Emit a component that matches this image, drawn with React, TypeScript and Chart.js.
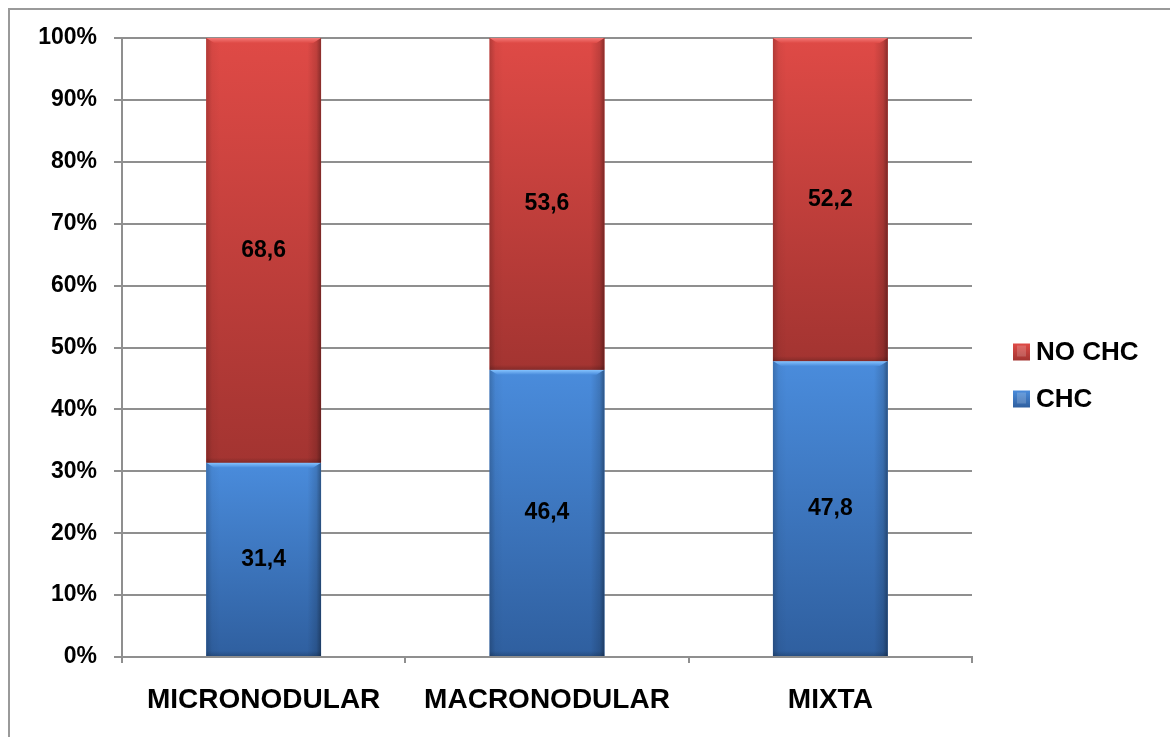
import React, { useEffect, useRef } from "react";
import { Chart, registerables } from "chart.js";

Chart.register(...registerables);

// Cirrhosis type categories and share (%) of patients with / without CHC
const categories = ["MICRONODULAR", "MACRONODULAR", "MIXTA"];
const seriesNames = ["CHC", "NO CHC"];
const chcValues = [31.4, 46.4, 47.8];
const noChcValues = [68.6, 53.6, 52.2];
const yTickStep = 10;
const yMax = 100;

const FONT = '"Liberation Sans", Arial, Helvetica, sans-serif';
const AXIS_GRAY = "#8f8f8f";

type Palette = { top: string; bottom: string; mid: string; light: string };
const palettes: Palette[] = [
  { top: "#4a8cdc", bottom: "#2f5f9f", mid: "#3f78c2", light: "#86c4ff" },
  { top: "#df4a46", bottom: "#a33431", mid: "#c43f3b", light: "#f47876" },
];

const fmt = (v: number) => v.toFixed(1).replace(".", ",");

// Glossy bar bodies, bevel highlights and value labels
const bevelBars = {
  id: "bevelBars",
  afterDatasetsDraw(chart: any) {
    const ctx: CanvasRenderingContext2D = chart.ctx;
    chart.data.datasets.forEach((ds: any, di: number) => {
      const meta = chart.getDatasetMeta(di);
      const pal = palettes[di];
      meta.data.forEach((el: any, i: number) => {
        const { x, y, base, width } = el.getProps(["x", "y", "base", "width"], true);
        const left = x - width / 2;
        const right = x + width / 2;
        const top = Math.min(y, base);
        const bottom = Math.max(y, base);
        const h = bottom - top;
        ctx.save();
        const g = ctx.createLinearGradient(0, top, 0, bottom);
        g.addColorStop(0, pal.top);
        g.addColorStop(1, pal.bottom);
        ctx.fillStyle = g;
        ctx.fillRect(left, top, width, h);

        const sg = ctx.createLinearGradient(left, 0, right, 0);
        sg.addColorStop(0, "rgba(0,0,0,0.2)");
        sg.addColorStop(0.05, "rgba(0,0,0,0.04)");
        sg.addColorStop(0.12, "rgba(0,0,0,0)");
        sg.addColorStop(0.88, "rgba(0,0,0,0)");
        sg.addColorStop(0.96, "rgba(0,0,0,0.14)");
        sg.addColorStop(1, "rgba(0,0,0,0.38)");
        ctx.fillStyle = sg;
        ctx.fillRect(left, top, width, h);

        // top bevel
        const bh = 5;
        ctx.beginPath();
        ctx.moveTo(left, top);
        ctx.lineTo(right, top);
        ctx.lineTo(right - 8, top + bh);
        ctx.lineTo(left + 8, top + bh);
        ctx.closePath();
        const tg = ctx.createLinearGradient(0, top, 0, top + bh);
        tg.addColorStop(0, pal.light);
        tg.addColorStop(1, pal.top);
        ctx.fillStyle = tg;
        ctx.fill();

        // soft bottom edge
        const bg = ctx.createLinearGradient(0, bottom - 5, 0, bottom);
        bg.addColorStop(0, "rgba(0,0,0,0)");
        bg.addColorStop(1, "rgba(0,0,0,0.18)");
        ctx.fillStyle = bg;
        ctx.fillRect(left, bottom - 5, width, 5);

        // value label
        ctx.fillStyle = "#000";
        ctx.font = `bold 23px ${FONT}`;
        ctx.textAlign = "center";
        ctx.textBaseline = "middle";
        ctx.fillText(fmt(ds.data[i]), x, top + h / 2);
        ctx.restore();
      });
    });
  },
};

// Legend on the right, last series first
const sideLegend = {
  id: "sideLegend",
  afterDraw(chart: any) {
    const ctx: CanvasRenderingContext2D = chart.ctx;
    const ds = chart.data.datasets;
    const x0 = 1013;
    const rowY = [352, 399];
    ctx.save();
    for (let k = 0; k < ds.length; k++) {
      const di = ds.length - 1 - k;
      const pal = palettes[di];
      const cy = rowY[k];
      const s = 17;
      const g = ctx.createLinearGradient(0, cy - s / 2, 0, cy + s / 2);
      g.addColorStop(0, pal.top);
      g.addColorStop(1, pal.bottom);
      ctx.fillStyle = g;
      ctx.fillRect(x0, cy - s / 2, s, s);
      ctx.fillStyle = "rgba(255,255,255,0.18)";
      ctx.fillRect(x0 + 4, cy - s / 2 + 2, s - 8, s - 6);
      ctx.fillStyle = "#000";
      ctx.font = `bold 26px ${FONT}`;
      ctx.textAlign = "left";
      ctx.textBaseline = "middle";
      ctx.fillText(ds[di].label, x0 + 23, cy + 1);
    }
    ctx.restore();
  },
};

export default function App() {
  const ref = useRef<HTMLCanvasElement | null>(null);

  useEffect(() => {
    if (!ref.current) return;
    const chart = new Chart(ref.current, {
      type: "bar",
      data: {
        labels: categories,
        datasets: [
          {
            label: seriesNames[0],
            data: chcValues,
            backgroundColor: palettes[0].mid,
            borderWidth: 0,
            barPercentage: 0.405,
            categoryPercentage: 1,
          },
          {
            label: seriesNames[1],
            data: noChcValues,
            backgroundColor: palettes[1].mid,
            borderWidth: 0,
            barPercentage: 0.405,
            categoryPercentage: 1,
          },
        ],
      },
      options: {
        responsive: false,
        animation: false,
        devicePixelRatio: 1,
        layout: { padding: { top: 38, right: 198, bottom: 0, left: 0 } },
        plugins: {
          legend: { display: false },
          tooltip: { enabled: false },
        },
        scales: {
          x: {
            stacked: true,
            offset: true,
            grid: {
              offset: true,
              drawOnChartArea: false,
              drawTicks: true,
              tickLength: 6,
              color: AXIS_GRAY,
              lineWidth: 2,
            },
            border: { display: true, color: AXIS_GRAY, width: 2 },
            ticks: {
              color: "#000",
              font: { family: FONT, size: 28, weight: "bold" },
              padding: 20,
              maxRotation: 0,
              autoSkip: false,
            },
            afterFit(s: any) {
              s.height = 80;
            },
          },
          y: {
            stacked: true,
            min: 0,
            max: yMax,
            grid: {
              color: AXIS_GRAY,
              lineWidth: 2,
              drawTicks: true,
              tickLength: 8,
            },
            border: { display: true, color: AXIS_GRAY, width: 2 },
            ticks: {
              stepSize: yTickStep,
              color: "#000",
              font: { family: FONT, size: 23, weight: "bold" },
              padding: 17,
              callback: (v: any) => `${v}%`,
            },
            afterFit(s: any) {
              s.width = 122;
            },
          },
        },
      },
      plugins: [bevelBars, sideLegend],
    });
    return () => chart.destroy();
  }, []);

  return (
    <div style={{ position: "fixed", inset: 0, overflow: "hidden", background: "#fff" }}>
      <div
        style={{
          position: "absolute",
          left: 8,
          top: 8,
          width: 1220,
          height: 800,
          border: "2px solid #9a9a9a",
          boxSizing: "border-box",
        }}
      />
      <canvas
        ref={ref}
        width={1170}
        height={737}
        style={{ position: "absolute", left: 0, top: 0, display: "block" }}
      />
    </div>
  );
}
